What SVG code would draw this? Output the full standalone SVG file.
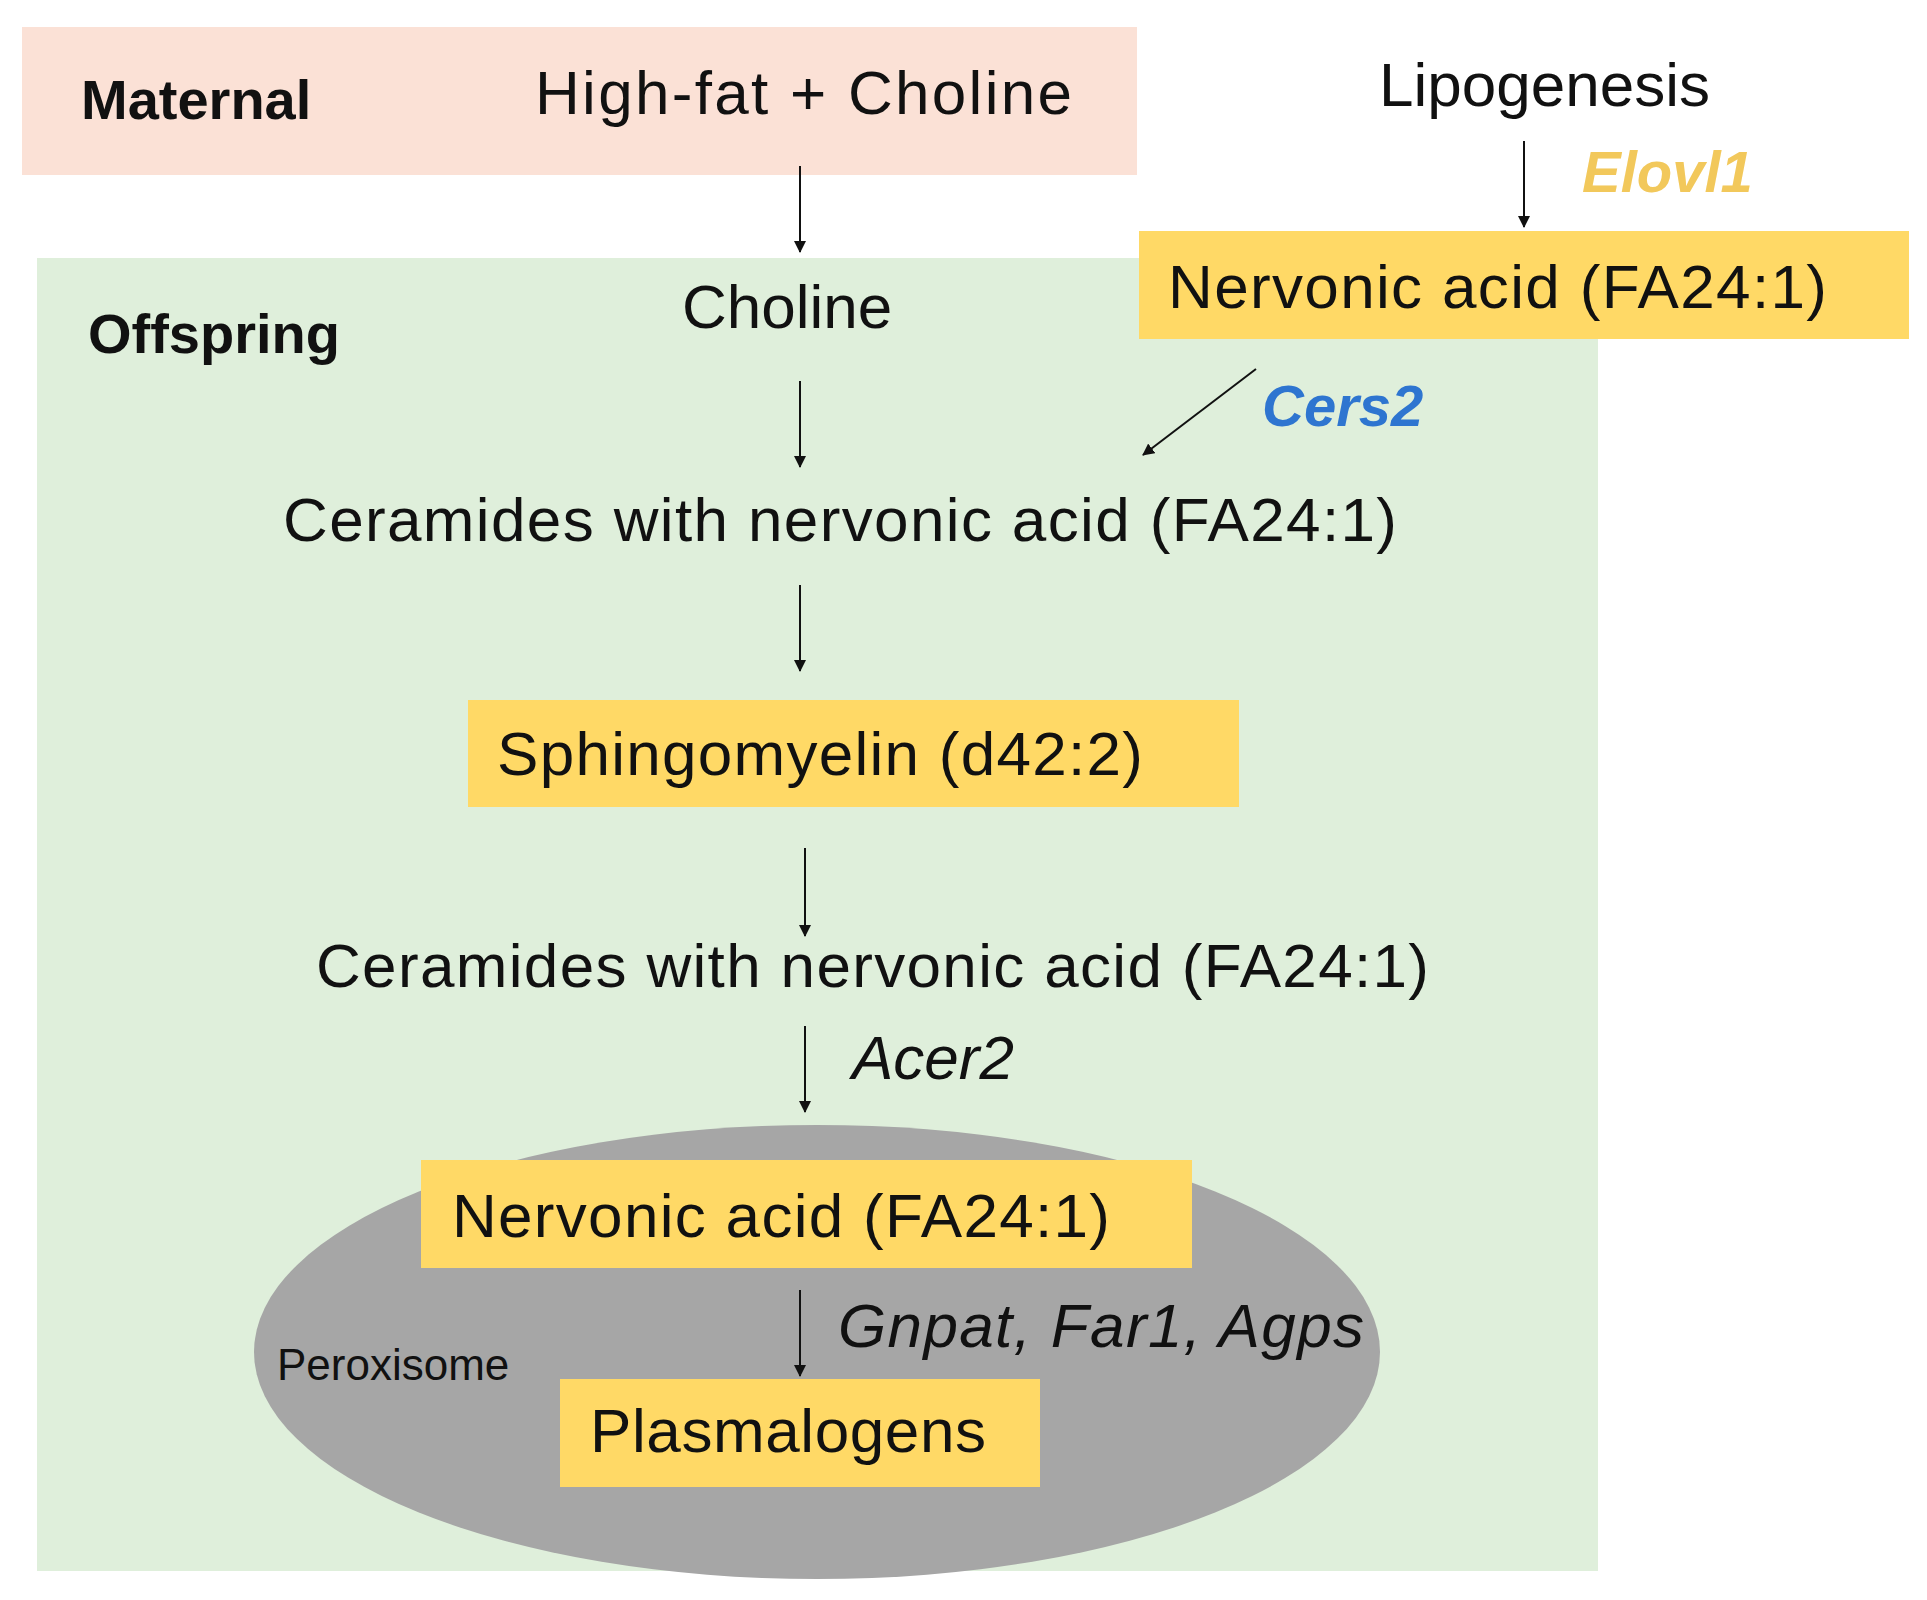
<svg xmlns="http://www.w3.org/2000/svg" width="1927" height="1600" viewBox="0 0 1927 1600">
<style>
text{font-family:"Liberation Sans",Arial,sans-serif;fill:#111}
.t{font-size:62px}
.b{font-weight:bold}
.y{fill:#ffd966}
.c line{stroke:#111;stroke-width:2}
</style>
<defs><marker id="a" markerWidth="12" markerHeight="12" refX="11" refY="6" orient="auto" markerUnits="userSpaceOnUse"><path d="M0,0L12,6L0,12Z" fill="#111"/></marker></defs>
<rect width="1927" height="1600" fill="#fff"/>
<g id="maternal"><rect x="22" y="27" width="1115" height="148" fill="#fbe1d6"/>
<text x="81" y="119" class="b" font-size="56">Maternal</text>
<text x="535" y="114" class="t" textLength="537">High-fat +  Choline</text></g>
<g id="offspring"><rect x="37" y="258" width="1561" height="1313" fill="#dfefdb"/>
<text x="88" y="353" class="b" font-size="56">Offspring</text></g>
<g id="peroxisome"><ellipse cx="817" cy="1352" rx="563" ry="227" fill="#a6a6a6"/>
<text x="277" y="1380" font-size="44">Peroxisome</text></g>
<g id="lipogenesis"><text x="1379" y="106" class="t">Lipogenesis</text></g>
<g id="elovl1"><text x="1582" y="192" class="b" font-style="italic" font-size="58" style="fill:#f2c85b">Elovl1</text></g>
<g id="nervonic-top"><rect class="y" x="1139" y="231" width="770" height="108"/>
<text x="1168" y="308" class="t" textLength="659">Nervonic  acid  (FA24:1)</text></g>
<g id="choline"><text x="682" y="328" class="t">Choline</text></g>
<g id="cers2"><text x="1262" y="426" class="b" font-style="italic" font-size="58" style="fill:#2e75d0">Cers2</text></g>
<g id="ceramides1"><text x="283" y="541" class="t" textLength="1114">Ceramides  with  nervonic  acid  (FA24:1)</text></g>
<g id="sphingomyelin"><rect class="y" x="468" y="700" width="771" height="107"/>
<text x="497" y="775" class="t" textLength="646">Sphingomyelin  (d42:2)</text></g>
<g id="ceramides2"><text x="316" y="987" class="t" textLength="1113">Ceramides  with  nervonic  acid  (FA24:1)</text></g>
<g id="acer2"><text x="852" y="1079" class="t" font-style="italic">Acer2</text></g>
<g id="nervonic-bottom"><rect class="y" x="421" y="1160" width="771" height="108"/>
<text x="452" y="1237" class="t" textLength="658">Nervonic  acid  (FA24:1)</text></g>
<g id="enzymes"><text x="838" y="1347" class="t" font-style="italic" textLength="526">Gnpat,  Far1,  Agps</text></g>
<g id="plasmalogens"><rect class="y" x="560" y="1379" width="480" height="108"/>
<text x="590" y="1452" class="t" textLength="396">Plasmalogens</text></g>
<g id="connectors" class="c">
<line x1="800" y1="166" x2="800" y2="252" marker-end="url(#a)"/>
<line x1="1524" y1="141" x2="1524" y2="227" marker-end="url(#a)"/>
<line x1="800" y1="381" x2="800" y2="467" marker-end="url(#a)"/>
<line x1="1256" y1="369" x2="1143" y2="455" marker-end="url(#a)"/>
<line x1="800" y1="585" x2="800" y2="671" marker-end="url(#a)"/>
<line x1="805" y1="848" x2="805" y2="936" marker-end="url(#a)"/>
<line x1="805" y1="1026" x2="805" y2="1112" marker-end="url(#a)"/>
<line x1="800" y1="1290" x2="800" y2="1376" marker-end="url(#a)"/>
</g>
</svg>
